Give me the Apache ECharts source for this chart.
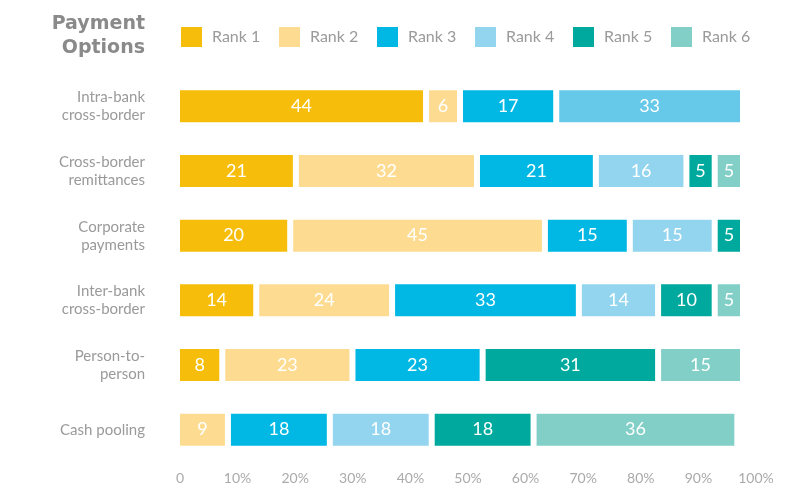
<!DOCTYPE html>
<html><head><meta charset="utf-8">
<script src="https://cdn.jsdelivr.net/npm/echarts@6/dist/echarts.min.js"></script>
<style>html,body{margin:0;padding:0;background:#fff}#c{width:785px;height:497px}</style>
</head><body><div id="c"></div>
<script>
const categories = ['Intra-bank\ncross-border','Cross-border\nremittances','Corporate\npayments','Inter-bank\ncross-border','Person-to-\nperson','Cash pooling'];
const seriesNames = ['Rank 1','Rank 2','Rank 3','Rank 4','Rank 5','Rank 6'];
const rank1 = [44, 21, 20, 14, 8, 0];
const rank2 = [6, 32, 45, 24, 23, 9];
const rank3 = [17, 21, 15, 33, 23, 18];
const rank4 = [33, 16, 15, 14, 0, 18];
const rank5 = [0, 5, 5, 10, 31, 18];
const rank6 = [0, 5, 0, 5, 15, 36];
const tickLabels = ['0','10%','20%','30%','40%','50%','60%','70%','80%','90%','100%'];
const colors = ['#F6BE0A','#FDDC92','#00B8E3','#93D5EE','#00A99D','#82CFC7'];
const legendLeft = [179, 277, 375, 473, 571, 669];

const FONT = 'Lato, "Open Sans", sans-serif';
const all = [rank1, rank2, rank3, rank4, rank5, rank6];

const series = all.map((arr, i) => ({
  name: seriesNames[i],
  type: 'bar',
  stack: 'total',
  xAxisIndex: 0, yAxisIndex: 0,
  barWidth: 38,
  itemStyle: { color: colors[i], borderColor: '#fff', borderWidth: 3 },
  label: {
    show: true, position: 'inside', color: '#fff', fontSize: 18, fontFamily: FONT,
    formatter: p => (p.value ? String(p.value) : '')
  },
  emphasis: { disabled: true },
  data: arr.map((v, j) => {
    if (!v) return null;
    if (i === 3 && j === 0) return { value: v, itemStyle: { color: '#66C9EA' } };
    return v;
  })
}));

const legends = seriesNames.map((n, i) => ({
  data: [n], left: legendLeft[i], top: 25, itemWidth: 23, itemHeight: 22, icon: 'rect',
  selectedMode: false, padding: 0, itemGap: 0,
  textStyle: { color: '#9a9a9a', fontSize: 16, fontFamily: FONT, padding: [0, 0, 0, 4] }
}));

const chart = echarts.init(document.getElementById('c'), null, { renderer: 'canvas' });
chart.setOption({
  animation: false,
  backgroundColor: '#fff',
  color: colors,
  title: {
    text: 'Payment\nOptions', left: 145, top: 12, textAlign: 'right', padding: 0,
    textStyle: { color: '#8a8a8a', fontSize: 19, fontWeight: 'bold', fontFamily: '"DejaVu Sans", sans-serif', lineHeight: 24 }
  },
  legend: legends,
  grid: [
    { left: 177, top: 74, width: 566, height: 388 },
    { left: 180, top: 74, width: 576, height: 388 }
  ],
  xAxis: [
    { gridIndex: 0, type: 'value', min: 0, max: 100, show: false },
    { gridIndex: 1, type: 'value', min: 0, max: 100, interval: 10,
      axisLine: { show: false }, axisTick: { show: false }, splitLine: { show: false },
      axisLabel: { color: '#aaaaaa', fontSize: 14, fontFamily: FONT, margin: 9,
        formatter: v => tickLabels[Math.round(v / 10)] } }
  ],
  yAxis: [
    { gridIndex: 0, type: 'category', data: categories, inverse: true,
      axisLine: { show: false }, axisTick: { show: false }, splitLine: { show: false },
      axisLabel: { color: '#9a9a9a', fontSize: 15, fontFamily: FONT, lineHeight: 18, margin: 32, align: 'right' } },
    { gridIndex: 1, type: 'category', data: categories, inverse: true, show: false }
  ],
  series: series
});
</script>
</body></html>
